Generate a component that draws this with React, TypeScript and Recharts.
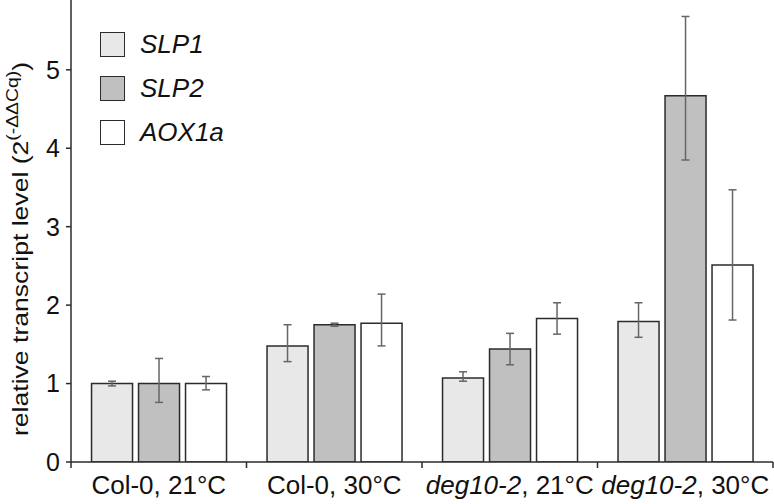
import { Bar, BarChart, ErrorBar, XAxis, YAxis } from "recharts";

const categories = ["Col-0, 21°C", "Col-0, 30°C", "deg10-2, 21°C", "deg10-2, 30°C"];
const italicPart = ["", "", "deg10-2", "deg10-2"];

const slp1 = [1.0, 1.48, 1.07, 1.79];
const slp1Err: [number, number][] = [[0.03, 0.03], [0.2, 0.27], [0.04, 0.08], [0.2, 0.24]];
const slp2 = [1.0, 1.75, 1.44, 4.67];
const slp2Err: [number, number][] = [[0.24, 0.32], [0.02, 0.02], [0.2, 0.2], [0.82, 1.01]];
const aox1a = [1.0, 1.77, 1.83, 2.51];
const aox1aErr: [number, number][] = [[0.08, 0.09], [0.29, 0.37], [0.2, 0.2], [0.7, 0.96]];

const yTicks = [0, 1, 2, 3, 4, 5];

const series = [
  { key: "slp1", name: "SLP1", fill: "#e8e8e8" },
  { key: "slp2", name: "SLP2", fill: "#c0c0c0" },
  { key: "aox1a", name: "AOX1a", fill: "#ffffff" },
];

const data = categories.map((c, i) => ({
  name: c,
  slp1: slp1[i],
  slp1Err: slp1Err[i],
  slp2: slp2[i],
  slp2Err: slp2Err[i],
  aox1a: aox1a[i],
  aox1aErr: aox1aErr[i],
}));

const FONT = "'Liberation Sans', Arial, sans-serif";
const STROKE = "#2b2b2b";

function CategoryTick(props: any) {
  const { x, y, payload, index } = props;
  const label: string = payload.value;
  const it = italicPart[index] ?? "";
  const rest = label.slice(it.length);
  const half = payload.offset ?? 87.75;
  const isLast = index === categories.length - 1;
  return (
    <g>
      <line x1={x - half} y1={y - 8} x2={x - half} y2={y - 2} stroke={STROKE} strokeWidth={1.5} />
      {isLast && (
        <line x1={x + half} y1={y - 8} x2={x + half} y2={y - 2} stroke={STROKE} strokeWidth={1.5} />
      )}
      <text x={x} y={y + 24} textAnchor="middle" fontSize={26} fontFamily={FONT} fill="#111">
        {it && <tspan fontStyle="italic">{it}</tspan>}
        <tspan>{rest}</tspan>
      </text>
    </g>
  );
}

function YLabel(props: any) {
  const vb = props.viewBox ?? { x: 0, y: 0, width: 71, height: 462 };
  const cx = 28;
  const cy = vb.y + vb.height / 2 + 18;
  return (
    <text
      x={cx}
      y={cy}
      transform={`rotate(-90, ${cx}, ${cy})`}
      textAnchor="middle"
      fontSize={22}
      fontFamily={FONT}
      fill="#111"
      textLength={374}
      lengthAdjust="spacingAndGlyphs"
    >
      <tspan>relative transcript level (2</tspan>
      <tspan fontSize={16} dy={-10}>(-ΔΔCq)</tspan>
      <tspan dy={10}>)</tspan>
    </text>
  );
}

function LegendBox() {
  return (
    <div style={{ position: "absolute", left: 100, top: 22, fontFamily: FONT }}>
      {series.map((s) => (
        <div key={s.key} style={{ display: "flex", alignItems: "center", height: 44 }}>
          <div
            style={{
              width: 23,
              height: 23,
              background: s.fill,
              border: `1.5px solid ${STROKE}`,
              marginRight: 15,
            }}
          />
          <span style={{ fontSize: 26, fontStyle: "italic", color: "#111" }}>{s.name}</span>
        </div>
      ))}
    </div>
  );
}

export default function App() {
  return (
    <div style={{ position: "absolute", left: 0, top: 0, width: 774, height: 504, background: "#fff" }}>
      <BarChart
        width={774}
        height={504}
        data={data}
        margin={{ top: 0, right: 1, left: 0, bottom: 0 }}
        barCategoryGap="11.7%"
        barGap={6}
      >
        <XAxis
          dataKey="name"
          height={42}
          tick={<CategoryTick />}
          tickLine={false}
          axisLine={{ stroke: STROKE, strokeWidth: 1.5 }}
          interval={0}
        />
        <YAxis
          width={71}
          domain={[0, 5.89]}
          ticks={yTicks}
          allowDataOverflow
          tickSize={5}
          tickMargin={6}
          tick={{ fontSize: 25, fontFamily: FONT, fill: "#111" }}
          tickLine={{ stroke: STROKE, strokeWidth: 1.5 }}
          axisLine={{ stroke: STROKE, strokeWidth: 1.5 }}
          label={<YLabel />}
        />
        {series.map((s) => (
          <Bar
            key={s.key}
            dataKey={s.key}
            name={s.name}
            fill={s.fill}
            stroke={STROKE}
            strokeWidth={1.5}
            isAnimationActive={false}
          >
            <ErrorBar
              dataKey={`${s.key}Err`}
              width={4}
              stroke="#666"
              strokeWidth={1.5}
              direction="y"
            />
          </Bar>
        ))}
      </BarChart>
      <LegendBox />
    </div>
  );
}
